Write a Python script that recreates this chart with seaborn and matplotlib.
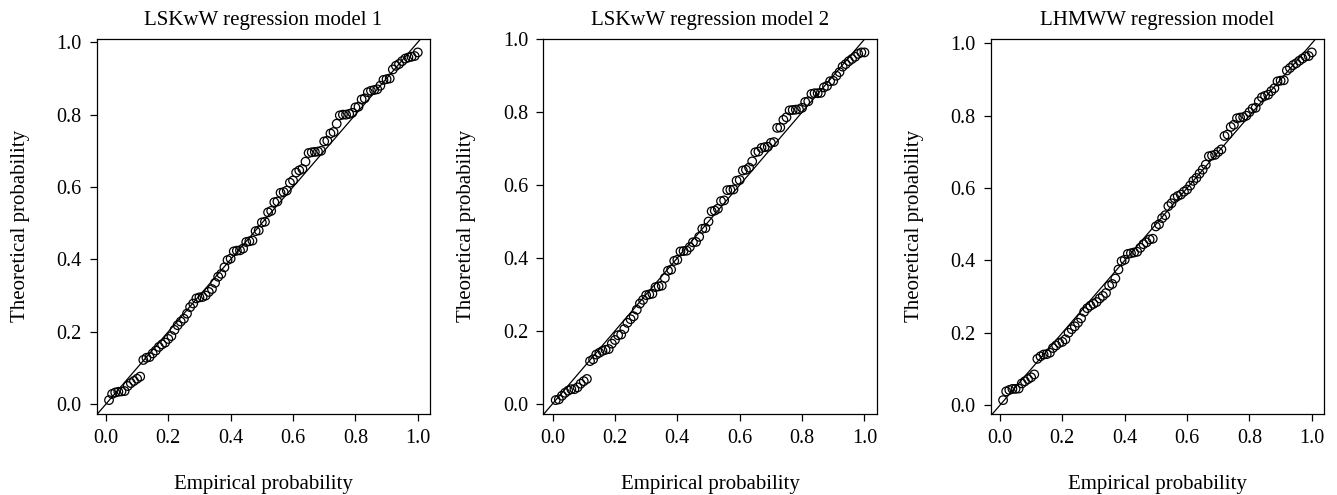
import numpy as np
import pandas as pd
import matplotlib
matplotlib.use("Agg")
import matplotlib.pyplot as plt
import seaborn as sns

# ---- data ----
titles = ["LSKwW regression model 1", "LSKwW regression model 2", "LHMWW regression model"]
empirical = [i / 100 for i in range(1, 101)]

theoretical_1 = [
    0.011, 0.028, 0.032, 0.034, 0.035, 0.036, 0.050, 0.058, 0.064, 0.070,
    0.076, 0.122, 0.128, 0.130, 0.140, 0.148, 0.158, 0.165, 0.170, 0.180,
    0.188, 0.205, 0.218, 0.228, 0.236, 0.250, 0.268, 0.278, 0.292, 0.295,
    0.296, 0.300, 0.310, 0.318, 0.335, 0.352, 0.360, 0.378, 0.398, 0.402,
    0.422, 0.424, 0.425, 0.430, 0.448, 0.450, 0.452, 0.478, 0.480, 0.502,
    0.504, 0.530, 0.534, 0.558, 0.560, 0.584, 0.586, 0.590, 0.612, 0.618,
    0.640, 0.646, 0.650, 0.670, 0.694, 0.696, 0.697, 0.698, 0.700, 0.726,
    0.728, 0.748, 0.752, 0.775, 0.798, 0.800, 0.800, 0.802, 0.805, 0.820,
    0.822, 0.842, 0.845, 0.862, 0.866, 0.868, 0.870, 0.880, 0.896, 0.898,
    0.900, 0.925, 0.935, 0.940, 0.948, 0.955, 0.958, 0.960, 0.962, 0.972,
]

theoretical_2 = [
    0.010, 0.012, 0.022, 0.030, 0.036, 0.040, 0.040, 0.045, 0.055, 0.062,
    0.068, 0.117, 0.122, 0.135, 0.140, 0.145, 0.148, 0.150, 0.165, 0.175,
    0.188, 0.190, 0.205, 0.222, 0.232, 0.240, 0.258, 0.275, 0.285, 0.298,
    0.300, 0.302, 0.320, 0.322, 0.324, 0.345, 0.365, 0.368, 0.392, 0.395,
    0.418, 0.419, 0.420, 0.430, 0.443, 0.444, 0.458, 0.480, 0.482, 0.500,
    0.528, 0.530, 0.535, 0.556, 0.558, 0.586, 0.587, 0.588, 0.612, 0.614,
    0.640, 0.642, 0.648, 0.665, 0.690, 0.692, 0.702, 0.704, 0.705, 0.716,
    0.718, 0.757, 0.758, 0.779, 0.786, 0.805, 0.806, 0.807, 0.808, 0.812,
    0.828, 0.830, 0.850, 0.852, 0.852, 0.853, 0.868, 0.872, 0.885, 0.886,
    0.900, 0.910, 0.925, 0.932, 0.940, 0.946, 0.952, 0.960, 0.964, 0.964,
]

theoretical_3 = [
    0.014, 0.038, 0.042, 0.045, 0.045, 0.046, 0.060, 0.066, 0.072, 0.077,
    0.085, 0.128, 0.135, 0.140, 0.141, 0.145, 0.158, 0.165, 0.172, 0.175,
    0.182, 0.200, 0.210, 0.218, 0.228, 0.240, 0.258, 0.268, 0.275, 0.280,
    0.285, 0.295, 0.302, 0.310, 0.330, 0.335, 0.350, 0.375, 0.398, 0.402,
    0.418, 0.420, 0.422, 0.424, 0.435, 0.445, 0.450, 0.458, 0.460, 0.494,
    0.500, 0.517, 0.525, 0.550, 0.558, 0.572, 0.578, 0.582, 0.590, 0.596,
    0.607, 0.620, 0.628, 0.640, 0.651, 0.665, 0.688, 0.690, 0.692, 0.700,
    0.707, 0.744, 0.748, 0.769, 0.775, 0.793, 0.795, 0.796, 0.800, 0.810,
    0.820, 0.822, 0.840, 0.851, 0.855, 0.858, 0.868, 0.876, 0.895, 0.897,
    0.898, 0.925, 0.932, 0.940, 0.945, 0.952, 0.958, 0.964, 0.965, 0.975,
]

tick_values = [0.0, 0.2, 0.4, 0.6, 0.8, 1.0]
tick_labels = ["0.0", "0.2", "0.4", "0.6", "0.8", "1.0"]
x_label = "Empirical probability"
y_label = "Theoretical probability"

# ---- style ----
sns.set_style("ticks")
plt.rcParams["font.family"] = ["Liberation Serif", "DejaVu Serif"]
plt.rcParams["axes.linewidth"] = 0.9
plt.rcParams["xtick.major.width"] = 0.9
plt.rcParams["ytick.major.width"] = 0.9
plt.rcParams["xtick.major.size"] = 5
plt.rcParams["ytick.major.size"] = 5
plt.rcParams["xtick.color"] = "black"
plt.rcParams["ytick.color"] = "black"
plt.rcParams["xtick.labelcolor"] = "black"
plt.rcParams["ytick.labelcolor"] = "black"
plt.rcParams["axes.edgecolor"] = "black"
plt.rcParams["text.color"] = "black"
plt.rcParams["axes.labelcolor"] = "black"
plt.rcParams["axes.titlecolor"] = "black"

fig = plt.figure(figsize=(13.37, 4.95), dpi=100)
lefts = [0.0723, 0.4064, 0.7410]
series = [theoretical_1, theoretical_2, theoretical_3]


def r_lim(vals):
    lo, hi = min(vals), max(vals)
    ext = 0.04 * (hi - lo)
    return lo - ext, hi + ext


for left, title, theo in zip(lefts, titles, series):
    ax = fig.add_axes([left, 0.1636, 0.2494, 0.7586])
    df = pd.DataFrame({"Empirical": empirical, "Theoretical": theo})
    ax.axline((0, 0), (1, 1), color="black", lw=0.9, zorder=1)
    sns.scatterplot(data=df, x="Empirical", y="Theoretical", ax=ax,
                    marker="o", s=38, facecolor="none", edgecolor="black",
                    linewidth=0.9, zorder=2)
    ax.set_xlim(*r_lim(empirical))
    ax.set_ylim(*r_lim(theo))
    ax.set_xticks(tick_values)
    ax.set_xticklabels(tick_labels, fontsize=14.5)
    ax.set_yticks(tick_values)
    ax.set_yticklabels(tick_labels, fontsize=14.5)
    ax.tick_params(axis="both", direction="out", pad=6)
    for sp in ax.spines.values():
        sp.set_visible(True)
        sp.set_color("black")
    ax.set_title(title, fontsize=15, pad=10, color="black")
    ax.set_xlabel(x_label, fontsize=15, labelpad=19, color="black")
    ax.set_ylabel(y_label, fontsize=15, labelpad=19, color="black")

fig.savefig("out.png", dpi=100, facecolor="white")
